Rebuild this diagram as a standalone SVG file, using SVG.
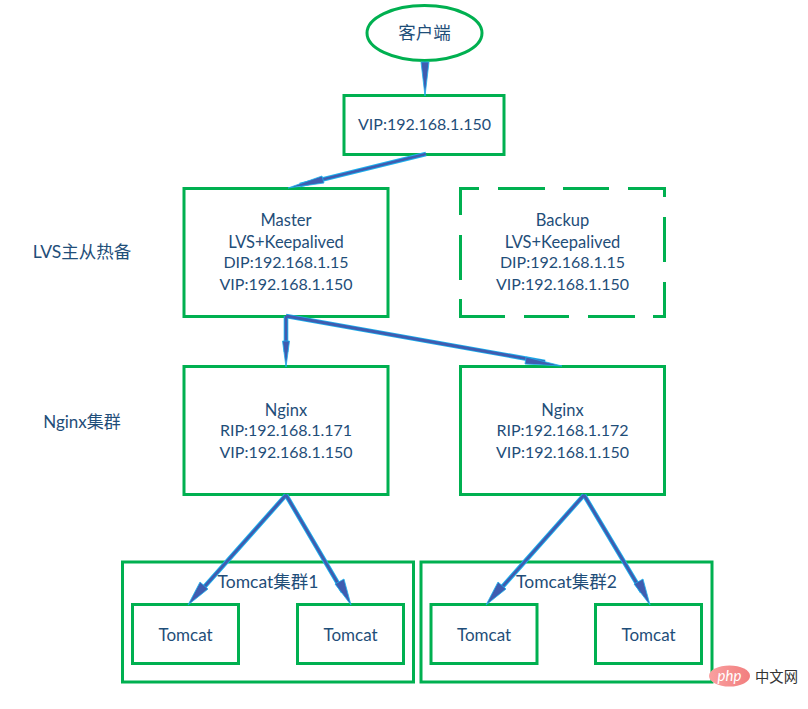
<svg xmlns="http://www.w3.org/2000/svg" width="808" height="709" viewBox="0 0 808 709">
<defs><linearGradient id="wm" x1="0" y1="0" x2="1" y2="0"><stop offset="0" stop-color="#f9a0a0"/><stop offset="1" stop-color="#f27e7e"/></linearGradient></defs>
<style>
.n{fill:#fff;stroke:#00b050;stroke-width:3}
.ds{fill:none;stroke:#00b050;stroke-width:3}
text{font-family:Lato,"Noto Sans CJK SC",sans-serif;font-size:16px;fill:#1f4e79;text-anchor:middle}
.w{font-size:16.500px}
.t{font-size:17px}
.c{font-size:17.500px}
.o{fill:none;stroke:#1cb2ee;stroke-width:4.600}
.i{fill:none;stroke:#3f5cb0;stroke-width:2.800}
.h{fill:#3f5cb0;stroke:#1cb2ee;stroke-width:.8}
</style>
<rect width="808" height="709" fill="#fff"/>
<g id="client"><ellipse class="n" cx="424.500" cy="33" rx="57.500" ry="27.500"/><text class="c" x="424.500" y="39">客户端</text></g>
<g id="vip"><rect class="n" x="344" y="95.500" width="160" height="59"/><text x="424.500" y="130">VIP:192.168.1.150</text></g>
<g id="master"><rect class="n" x="184" y="188.500" width="204" height="128"/><text class="w" x="286" y="225.500">Master</text><text class="w" x="286" y="247.500">LVS+Keepalived</text><text x="286" y="268">DIP:192.168.1.15</text><text x="286" y="290">VIP:192.168.1.150</text></g>
<g id="backup"><rect x="460.500" y="188.500" width="204" height="128" fill="#fff"/><path class="ds" d="M460.500 215V188.500H479M498 188.500H545M563 188.500H609M628 188.500H664.500V197M664.500 217V262M664.500 282V316.500H653M635 316.500H588M569 316.500H524M505 316.500H460.500V299M460.500 280V235"/><text class="w" x="562.500" y="225.500">Backup</text><text class="w" x="562.500" y="247.500">LVS+Keepalived</text><text x="562.500" y="268">DIP:192.168.1.15</text><text x="562.500" y="290">VIP:192.168.1.150</text></g>
<g id="label-lvs"><text class="c" x="82" y="257.500">LVS主从热备</text></g>
<g id="label-nginx"><text class="t" x="82" y="427.500">Nginx集群</text></g>
<g id="nginx1"><rect class="n" x="184" y="366.500" width="204" height="128"/><text class="w" x="286" y="415.500">Nginx</text><text x="286" y="436">RIP:192.168.1.171</text><text x="286" y="458">VIP:192.168.1.150</text></g>
<g id="nginx2"><rect class="n" x="460.500" y="366.500" width="204" height="128"/><text class="w" x="562.500" y="415.500">Nginx</text><text x="562.500" y="436">RIP:192.168.1.172</text><text x="562.500" y="458">VIP:192.168.1.150</text></g>
<g id="cluster1"><rect class="n" x="122.500" y="562" width="291" height="120"/></g>
<g id="cluster2"><rect class="n" x="421" y="562" width="291" height="120"/></g>
<g id="tomcat1"><rect class="n" x="132.500" y="604.500" width="106" height="59"/><text class="t" x="185.500" y="640.500">Tomcat</text></g>
<g id="tomcat2"><rect class="n" x="297.500" y="604.500" width="106" height="59"/><text class="t" x="350.500" y="640.500">Tomcat</text></g>
<g id="tomcat3"><rect class="n" x="431" y="604.500" width="106" height="59"/><text class="t" x="484" y="640.500">Tomcat</text></g>
<g id="tomcat4"><rect class="n" x="595.500" y="604.500" width="106" height="59"/><text class="t" x="648.500" y="640.500">Tomcat</text></g>
<g id="connectors">
<path class="o" d="M426 154L300 185M286 316V352M286 316L545 362M286 495L198 594M286 495L343 592M584 495L496 594M584 495L642 592"/>
<path class="i" d="M426 154L300 185M286 316V345M286 316L545 362M286 495L198 594M286 495L343 592M584 495L496 594M584 495L642 592"/>
<g class="h">
<polygon points="421,62 429,62 425,96"/>
<polygon points="288,188 322,176 324,183"/>
<polygon points="286,367 282.500,341 289.500,341"/>
<polygon points="562,366 526,357 525,364"/>
<polygon points="188,605 200,582 208,589"/>
<polygon points="351,605 335,584 344,579"/>
<polygon points="486,605 498,582 506,589"/>
<polygon points="650,605 634,584 643,579"/>
</g>
</g>
<g id="label-cluster1"><text class="c" x="268" y="588">Tomcat集群1</text></g>
<g id="label-cluster2"><text class="c" x="566.500" y="588">Tomcat集群2</text></g>
<g id="watermark"><ellipse cx="729.500" cy="676" rx="20.500" ry="10.500" fill="url(#wm)"/><text x="729.500" y="681" style="font-size:15px;font-style:italic;fill:#fff">php</text><text x="776.500" y="682" style="font-size:14.300px;fill:#333">中文网</text></g>
</svg>
